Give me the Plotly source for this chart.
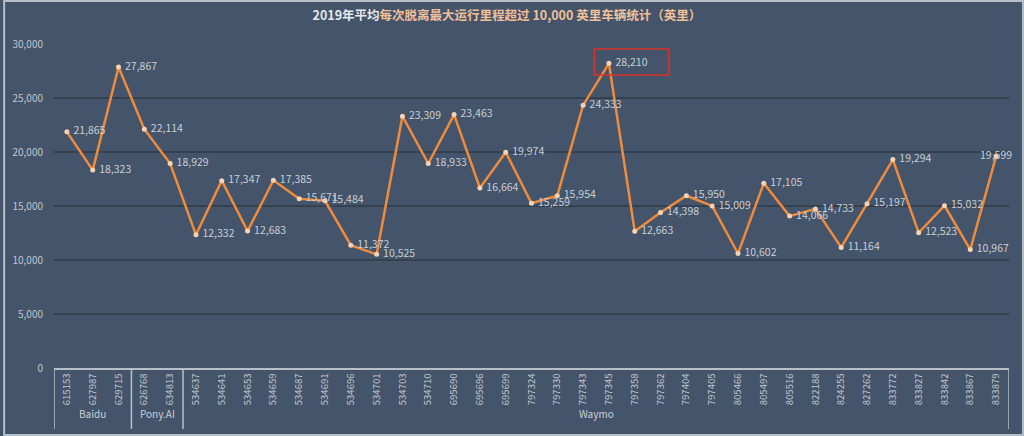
import plotly.graph_objects as go

vehicles = ["615153", "627987", "629715", "626768", "634813",
            "534637", "534641", "534653", "534659", "534687", "534691",
            "534696", "534701", "534703", "534710", "695690", "695696",
            "695699", "797324", "797330", "797343", "797345", "797358",
            "797362", "797404", "797405", "805466", "805497", "805516",
            "822188", "824255", "827262", "833772", "833827", "833842",
            "833867", "833879"]
miles = [21865, 18323, 27867, 22114, 18929,
         12332, 17347, 12683, 17385, 15671, 15484,
         11372, 10525, 23309, 18933, 23463, 16664,
         19974, 15259, 15954, 24333, 28210, 12663,
         14398, 15950, 15009, 10602, 17105, 14066,
         14733, 11164, 15197, 19294, 12523, 15032,
         10967, 19599]
companies = ["Baidu", "Pony.AI", "Waymo"]
company_counts = [3, 2, 32]
y_ticks = [0, 5000, 10000, 15000, 20000, 25000, 30000]

bg = "#44546a"
font_cjk = "Noto Sans CJK SC"

# last label sits on top of its point, the rest to the right
text_pos = ["middle right"] * (len(miles) - 1) + ["middle center"]
labels = ["\u00a0" + f"{v:,}" for v in miles[:-1]] + [f"{miles[-1]:,}"]

fig = go.Figure()
fig.add_trace(go.Scatter(
    x=vehicles, y=miles, mode="lines+markers+text",
    line=dict(color="#ef8b3d", width=2.5),
    marker=dict(size=5, color="#f7d2b4"),
    text=labels,
    textposition=text_pos,
    textfont=dict(size=10.5, color="#c9ced6", family=font_cjk),
    cliponaxis=False, hoverinfo="x+y",
))

# group separators and labels under the category axis
shapes = []
annotations = []
start = 0
edges = [-0.5]
for name, n in zip(companies, company_counts):
    end = start + n
    edges.append(end - 0.5)
    annotations.append(dict(
        x=(start + end - 1) / 2, y=-0.17, xref="x", yref="paper",
        text=name, showarrow=False,
        font=dict(size=10, color="#c9ced6", family=font_cjk)))
    start = end
for e in edges:
    shapes.append(dict(type="line", xref="x", yref="paper",
                       x0=e, x1=e, y0=0, y1=-0.188,
                       line=dict(color="#b7bfca", width=1.5)))

# red highlight box around the maximum
imax = miles.index(max(miles))
shapes.append(dict(type="rect", xref="x", yref="y",
                   x0=imax - 0.57, x1=imax + 2.32, y0=27130, y1=29537,
                   line=dict(color="#d9322b", width=1.5)))
# outer frame
shapes.append(dict(type="rect", xref="paper", yref="paper",
                   x0=-0.0522, x1=1.0146, y0=-0.2068, y1=1.1327,
                   line=dict(color="#b8bec8", width=2)))

fig.update_layout(
    width=1024, height=436,
    paper_bgcolor=bg, plot_bgcolor=bg,
    margin=dict(l=51, r=15, t=44, b=68),
    showlegend=False,
    title=dict(
        text="<b><span style='color:#e6e8ec'>2019年平均</span>"
             "<span style='color:#f0c09a'>每次脱离最大运行里程超过 10,000 英里车辆统计（英里）</span></b>",
        x=0.495, xanchor="center", y=0.965, yanchor="middle",
        font=dict(size=12.5, family=font_cjk)),
    shapes=shapes, annotations=annotations,
)
fig.update_xaxes(
    type="category", tickangle=-90, showgrid=False,
    showline=True, linecolor="#b7bfca", linewidth=1.5,
    tickfont=dict(size=9.5, color="#c0c6cf", family=font_cjk),
    ticks="", range=[-0.5, len(vehicles) - 0.5],
)
fig.update_yaxes(
    range=[0, 30000], tickvals=y_ticks, tickformat=",d",
    gridcolor="#36414f", gridwidth=1.5, zeroline=False,
    tickfont=dict(size=10, color="#c0c6cf", family=font_cjk),
    ticklabelstandoff=10,
)

# drop the page's default body margin so the chart fills the window
fig.write_html("out.html", config={"displayModeBar": False},
               post_script="document.body.style.margin='0';")
